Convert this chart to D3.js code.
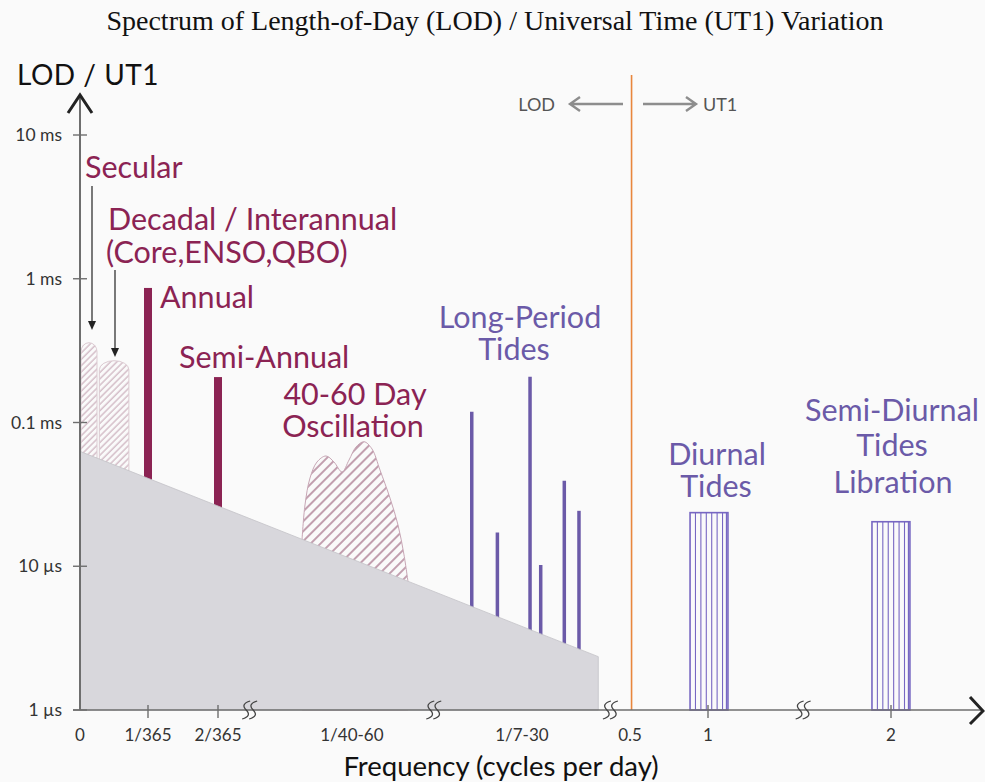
<!DOCTYPE html>
<html>
<head>
<meta charset="utf-8">
<script src="https://cdn.jsdelivr.net/npm/d3@7"></script>
<style>
  body { margin: 0; background: #fafafa; }
  svg { display: block; }
</style>
</head>
<body>
<svg id="viz" width="985" height="782"></svg>
<script>
// ---- data ----
// y values are in seconds, x values in cycles per day
var yTickValues = [1e-2, 1e-3, 1e-4, 1e-5, 1e-6];
var yTickLabels = ['10 ms', '1 ms', '0.1 ms', '10 \u00b5s', '1 \u00b5s'];

var xTickValues = [0, 1/365, 2/365, 0.0206, 0.085, 0.5, 1, 2];
var xTickLabels = ['0', '1/365', '2/365', '1/40-60', '1/7-30', '0.5', '1', '2'];
var xTickMarked = [false, true, true, false, false, false, true, true];
var xBreaks = [0.0098, 0.0283, 0.36, 1.52];

// noise floor (grey wedge)
var floorFreq = [0, 0.2736];
var floorValue = [6.3e-5, 2.35e-6];

// hatched bands at the low end
var bandNames = ['Secular', 'Decadal'];
var bandFrom = [0.00004, 0.00078];
var bandTo = [0.000685, 0.00197];
var bandTop = [3.59e-4, 2.69e-4];

// annual / semi-annual lines
var seasonalFreq = [1/365, 2/365];
var seasonalValue = [8.63e-4, 2.07e-4];

// 40-60 day oscillation outline (period in days, amplitude)
var mjoPeriod = [59.46, 58.67, 57.39, 55.70, 53.66, 51.97, 50.38, 49.07, 47.83, 46.48, 45.21, 44.00, 42.58, 41.51, 40.74, 40.24];
var mjoValue = [1.52e-5, 2.67e-5, 4.11e-5, 5.31e-5, 5.85e-5, 5.31e-5, 4.53e-5, 5.48e-5, 6.75e-5, 7.35e-5, 6.55e-5, 4.67e-5, 2.98e-5, 1.94e-5, 1.20e-5, 7.77e-6];

// long-period tides (period in days, amplitude)
var tidePeriod = [28.5, 16.5, 10.74, 9.64, 7.86, 7.05];
var tideValue = [1.19e-4, 1.72e-5, 2.08e-4, 1.02e-5, 3.94e-5, 2.43e-5];

// diurnal and semi-diurnal bands
var dailyFrom = [0.885, 1.896];
var dailyTo = [1.109, 2.104];
var dailyValue = [2.36e-5, 2.04e-5];

var lodUt1Split = 0.51;

// ---- layout ----
var maroon = '#8b2353',
    purple = '#6b5aa8',
    lilac = '#7767c2',
    axisGrey = '#6e6e6e',
    labelFont = 'Lato, "Open Sans", sans-serif';

var svg = d3.select('#viz');

// broken frequency axis: piecewise linear
var x = d3.scaleLinear()
    .domain([0, 1/365, 2/365, 1/60, 1/40, 1/30, 1/7, 0.5, 1, 2, 2.5])
    .range([80, 148, 218, 300, 410, 470, 580, 630, 708, 891, 982]);

var y = d3.scaleLog()
    .domain([1e-6, 1e-2])
    .range([710, 135]);

var base = y(1e-6);

// patterns
var defs = svg.append('defs');
defs.append('pattern')
    .attr('id', 'hatchFine')
    .attr('patternUnits', 'userSpaceOnUse')
    .attr('width', 4.5).attr('height', 4.5)
    .attr('patternTransform', 'rotate(45)')
  .append('line')
    .attr('x1', 1).attr('y1', 0).attr('x2', 1).attr('y2', 4.5)
    .attr('stroke', '#c7a9b7').attr('stroke-width', 1.1);

var wide = defs.append('pattern')
    .attr('id', 'hatchWide')
    .attr('patternUnits', 'userSpaceOnUse')
    .attr('width', 7).attr('height', 7)
    .attr('patternTransform', 'rotate(45)');
wide.append('line')
    .attr('x1', 2).attr('y1', 0).attr('x2', 2).attr('y2', 7)
    .attr('stroke', '#b4889c').attr('stroke-width', 1.6);

// title
svg.append('text')
    .attr('x', 495).attr('y', 30)
    .attr('text-anchor', 'middle')
    .style('font-family', '"Liberation Serif", "Times New Roman", serif')
    .style('font-size', '28px')
    .style('fill', '#111')
    .text('Spectrum of Length-of-Day (LOD) / Universal Time (UT1) Variation');

// hatched secular / decadal bands
svg.selectAll('rect.band')
    .data(bandNames)
    .enter().append('rect')
    .attr('class', 'band')
    .attr('x', function(d, i) { return x(bandFrom[i]); })
    .attr('width', function(d, i) { return x(bandTo[i]) - x(bandFrom[i]); })
    .attr('y', function(d, i) { return y(bandTop[i]); })
    .attr('height', function(d, i) { return base - y(bandTop[i]); })
    .attr('rx', function(d, i) { return (x(bandTo[i]) - x(bandFrom[i])) / 2; })
    .attr('ry', 9)
    .attr('fill', 'url(#hatchFine)')
    .attr('stroke', '#dccbd2')
    .attr('stroke-width', 1);

// 40-60 day bump
var mjo = mjoPeriod.map(function(p, i) { return [1 / p, mjoValue[i]]; });
svg.append('path')
    .datum(mjo)
    .attr('d', d3.area()
        .x(function(d) { return x(d[0]); })
        .y0(base)
        .y1(function(d) { return y(d[1]); })
        .curve(d3.curveCatmullRom))
    .attr('fill', 'url(#hatchWide)')
    .attr('stroke', '#c7a6b5')
    .attr('stroke-width', 1);

// annual / semi-annual bars
svg.selectAll('rect.season')
    .data(seasonalFreq)
    .enter().append('rect')
    .attr('class', 'season')
    .attr('x', function(d) { return x(d) - 4; })
    .attr('width', 8)
    .attr('y', function(d, i) { return y(seasonalValue[i]); })
    .attr('height', function(d, i) { return base - y(seasonalValue[i]); })
    .attr('fill', maroon);

// long-period tide lines
svg.selectAll('line.tide')
    .data(tidePeriod)
    .enter().append('line')
    .attr('class', 'tide')
    .attr('x1', function(d) { return x(1 / d); })
    .attr('x2', function(d) { return x(1 / d); })
    .attr('y1', function(d, i) { return y(tideValue[i]); })
    .attr('y2', base)
    .attr('stroke', purple)
    .attr('stroke-width', 3.5);

// grey noise floor drawn over the lower ends
svg.append('path')
    .datum(floorFreq.map(function(f, i) { return [f, floorValue[i]]; }))
    .attr('d', d3.area()
        .x(function(d) { return x(d[0]); })
        .y0(base)
        .y1(function(d) { return y(d[1]); }))
    .attr('fill', '#d8d7dc')
    .attr('stroke', '#c4c3c8')
    .attr('stroke-width', 0.8);

// diurnal / semi-diurnal hatched boxes
dailyFrom.forEach(function(f0, i) {
    var x0 = x(f0), x1 = x(dailyTo[i]), top = y(dailyValue[i]);
    var g = svg.append('g');
    g.selectAll('line')
        .data(d3.range(1, 7))
        .enter().append('line')
        .attr('x1', function(k) { return x0 + (x1 - x0) * k / 7; })
        .attr('x2', function(k) { return x0 + (x1 - x0) * k / 7; })
        .attr('y1', top).attr('y2', base)
        .attr('stroke', lilac).attr('stroke-width', 1.1);
    g.append('rect')
        .attr('x', x0).attr('y', top)
        .attr('width', x1 - x0).attr('height', base - top)
        .attr('fill', 'none')
        .attr('stroke', lilac).attr('stroke-width', 1.6);
    g.append('line')
        .attr('x1', x1 - 1.5).attr('x2', x1 - 1.5)
        .attr('y1', top).attr('y2', base)
        .attr('stroke', lilac).attr('stroke-width', 1.2);
});

// LOD / UT1 divider
svg.append('line')
    .attr('x1', x(lodUt1Split)).attr('x2', x(lodUt1Split))
    .attr('y1', 75).attr('y2', base)
    .attr('stroke', '#e8863c').attr('stroke-width', 1.6);

// axes
svg.append('line')
    .attr('x1', 80).attr('x2', 80)
    .attr('y1', base).attr('y2', 96)
    .attr('stroke', axisGrey).attr('stroke-width', 2);
svg.append('path')
    .attr('d', 'M68,113 L80,95 L92,113')
    .attr('fill', 'none').attr('stroke', '#222').attr('stroke-width', 3);

svg.append('line')
    .attr('x1', 73).attr('x2', 982)
    .attr('y1', base).attr('y2', base)
    .attr('stroke', axisGrey).attr('stroke-width', 1.6);
svg.append('path')
    .attr('d', 'M970,697 L983,711 L970,724')
    .attr('fill', 'none').attr('stroke', '#222').attr('stroke-width', 3);

// y ticks
var yt = svg.append('g');
yt.selectAll('line')
    .data(yTickValues)
    .enter().append('line')
    .attr('x1', 73).attr('x2', 87)
    .attr('y1', function(d) { return y(d); })
    .attr('y2', function(d) { return y(d); })
    .attr('stroke', axisGrey).attr('stroke-width', 1.4);
yt.selectAll('text')
    .data(yTickValues)
    .enter().append('text')
    .attr('x', 62)
    .attr('y', function(d) { return y(d) + 6; })
    .attr('text-anchor', 'end')
    .style('font-family', labelFont)
    .style('font-size', '17.5px')
    .style('fill', '#333')
    .text(function(d, i) { return yTickLabels[i]; });

// x ticks
var xt = svg.append('g');
xt.selectAll('line')
    .data(xTickValues.filter(function(d, i) { return xTickMarked[i]; }))
    .enter().append('line')
    .attr('x1', function(d) { return x(d); })
    .attr('x2', function(d) { return x(d); })
    .attr('y1', base - 5).attr('y2', base + 8)
    .attr('stroke', axisGrey).attr('stroke-width', 1.4);
xt.selectAll('text')
    .data(xTickValues)
    .enter().append('text')
    .attr('x', function(d) { return x(d); })
    .attr('y', base + 31)
    .attr('text-anchor', 'middle')
    .style('font-family', labelFont)
    .style('font-size', '17px')
    .style('fill', '#333')
    .text(function(d, i) { return xTickLabels[i]; });

// axis break squiggles
var brk = svg.append('g');
xBreaks.forEach(function(f) {
    var cx = x(f);
    [-3.5, 3.5].forEach(function(o) {
        var ox = cx + o;
        brk.append('path')
            .attr('d', 'M' + (ox + 4) + ',' + (base - 9) +
                ' Q' + (ox - 6) + ',' + (base - 6) + ' ' + ox + ',' + base +
                ' Q' + (ox + 6) + ',' + (base + 6) + ' ' + (ox - 4) + ',' + (base + 9))
            .attr('fill', 'none').attr('stroke', '#444').attr('stroke-width', 1.3);
    });
});

// axis titles
svg.append('text')
    .attr('x', 17).attr('y', 85)
    .style('font-family', labelFont)
    .style('font-size', '28px')
    .style('letter-spacing', '0.5px')
    .style('fill', '#111')
    .text('LOD / UT1');
svg.append('text')
    .attr('x', 501).attr('y', 776)
    .attr('text-anchor', 'middle')
    .style('font-family', labelFont)
    .style('font-size', '27.5px')
    .style('fill', '#111')
    .text('Frequency (cycles per day)');

// LOD <- | -> UT1
var arrowGrey = '#8d8d8d';
svg.append('path')
    .attr('d', 'M623,104 L570,104 M580,97 L570,104 L580,111')
    .attr('fill', 'none').attr('stroke', arrowGrey).attr('stroke-width', 2.4);
svg.append('path')
    .attr('d', 'M643,104 L696,104 M686,97 L696,104 L686,111')
    .attr('fill', 'none').attr('stroke', arrowGrey).attr('stroke-width', 2.4);
svg.append('text')
    .attr('x', 555).attr('y', 111)
    .attr('text-anchor', 'end')
    .style('font-family', labelFont).style('font-size', '18px').style('fill', '#555')
    .text('LOD');
svg.append('text')
    .attr('x', 703).attr('y', 111)
    .style('font-family', labelFont).style('font-size', '18px').style('fill', '#555')
    .text('UT1');

// pointer arrows for secular and decadal
var ptr = svg.append('g').attr('stroke', '#222').attr('fill', '#222');
[[92, 186, 330], [115, 270, 357]].forEach(function(a) {
    ptr.append('line')
        .attr('x1', a[0]).attr('x2', a[0])
        .attr('y1', a[1]).attr('y2', a[2] - 6)
        .attr('stroke-width', 1.2);
    ptr.append('path')
        .attr('d', 'M' + (a[0] - 4) + ',' + (a[2] - 9) + ' L' + (a[0] + 4) + ',' + (a[2] - 9) + ' L' + a[0] + ',' + a[2] + 'Z')
        .attr('stroke', 'none');
});

// annotations
var notes = [
    { t: 'Secular', x: 85, y: 178, c: maroon, a: 'start' },
    { t: 'Decadal / Interannual', x: 108, y: 230, c: maroon, a: 'start' },
    { t: '(Core,ENSO,QBO)', x: 106, y: 263, c: maroon, a: 'start' },
    { t: 'Annual', x: 160, y: 308, c: maroon, a: 'start' },
    { t: 'Semi-Annual', x: 179, y: 368, c: maroon, a: 'start' },
    { t: '40-60 Day', x: 355, y: 405, c: maroon, a: 'middle' },
    { t: 'Oscillation', x: 353, y: 437, c: maroon, a: 'middle' },
    { t: 'Long-Period', x: 520, y: 328, c: purple, a: 'middle' },
    { t: 'Tides', x: 514, y: 360, c: purple, a: 'middle' },
    { t: 'Diurnal', x: 717, y: 465, c: purple, a: 'middle' },
    { t: 'Tides', x: 716, y: 497, c: purple, a: 'middle' },
    { t: 'Semi-Diurnal', x: 892, y: 421, c: purple, a: 'middle' },
    { t: 'Tides', x: 892, y: 456, c: purple, a: 'middle' },
    { t: 'Libration', x: 893, y: 493, c: purple, a: 'middle' }
];
svg.selectAll('text.note')
    .data(notes)
    .enter().append('text')
    .attr('class', 'note')
    .attr('x', function(d) { return d.x; })
    .attr('y', function(d) { return d.y; })
    .attr('text-anchor', function(d) { return d.a; })
    .style('font-family', labelFont)
    .style('font-size', '30.5px')
    .style('fill', function(d) { return d.c; })
    .text(function(d) { return d.t; });
</script>
</body>
</html>
